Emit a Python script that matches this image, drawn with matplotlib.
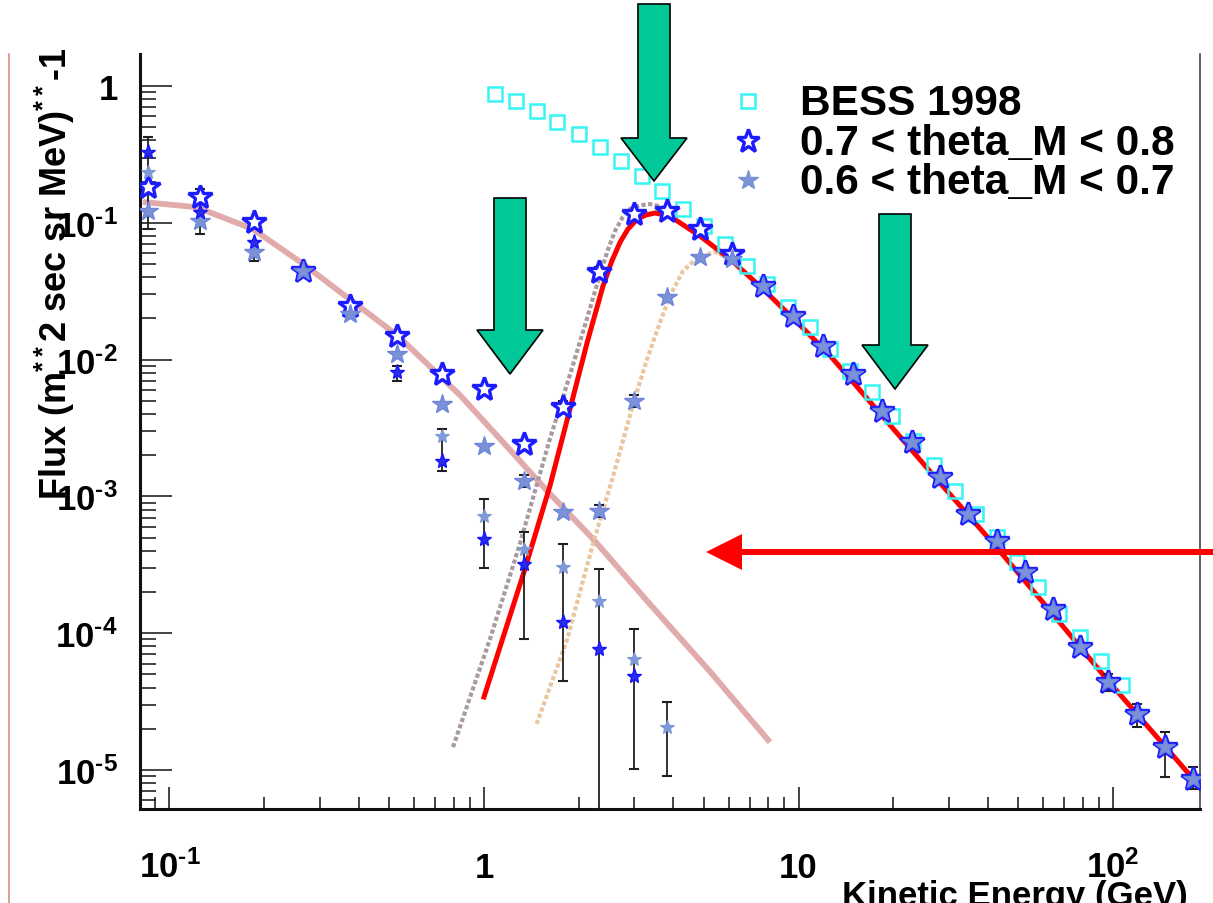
import matplotlib
matplotlib.use("Agg")
import matplotlib.pyplot as plt
import numpy as np
from matplotlib.lines import Line2D
from matplotlib.patches import Polygon
from matplotlib.ticker import FixedLocator, FuncFormatter, LogLocator, NullFormatter

plt.rcParams["font.family"] = ["Liberation Sans", "DejaVu Sans"]
plt.rcParams["font.weight"] = "bold"
plt.rcParams["mathtext.fontset"] = "custom"
plt.rcParams["mathtext.rm"] = "Liberation Sans:bold"
plt.rcParams["mathtext.it"] = "Liberation Sans:bold"
plt.rcParams["mathtext.bf"] = "Liberation Sans:bold"

# ---- data (kinetic energy in GeV, flux) ----
bess_e = [1.08, 1.26, 1.47, 1.71, 2.00, 2.34, 2.73, 3.18, 3.68, 4.29, 5.01,
          5.84, 6.86, 7.94, 9.26, 10.9, 12.6, 14.6, 17.1, 19.8, 23.1, 27.0,
          31.4, 36.7, 42.8, 49.5, 57.8, 67.3, 78.5, 91.6, 107]
bess_flux = [0.874, 0.777, 0.656, 0.546, 0.446, 0.358, 0.283, 0.220, 0.171,
             0.126, 0.0948, 0.070, 0.0483, 0.0357, 0.0243, 0.0173, 0.0119,
             0.00826, 0.00580, 0.00387, 0.00254, 0.00170, 0.00110, 7.43e-4,
             5.05e-4, 3.31e-4, 2.18e-4, 1.38e-4, 9.38e-5, 6.26e-5, 4.18e-5]

e_bins = [0.0855, 0.125, 0.186, 0.266, 0.375, 0.529, 0.735, 1.00, 1.34, 1.78,
          2.32, 3.00, 3.82, 4.86, 6.15, 7.71, 9.61, 12.0, 14.9, 18.4, 23.0,
          28.2, 34.6, 42.8, 52.5, 64.4, 78.5, 96.4, 119, 146, 180]
flux_07_08 = [0.183, 0.154, 0.101, 0.0444, 0.0246, 0.0149, 0.00785, 0.00610,
              0.00242, 0.00450, 0.0437, 0.116, 0.122, 0.0901, 0.0592, 0.0345,
              0.0208, 0.0126, 0.00785, 0.00421, 0.00250, 0.00139, 7.43e-4,
              4.72e-4, 2.80e-4, 1.50e-4, 7.93e-5, 4.40e-5, 2.56e-5, 1.47e-5,
              8.59e-6]
flux_06_07 = [0.122, 0.103, 0.0612, 0.0444, 0.0215, 0.0110, 0.00473, 0.00233,
              0.00130, 7.69e-4, 7.82e-4, 0.00498, 0.0287, 0.0562, 0.0543,
              0.0345, 0.0208, 0.0126, 0.00785, 0.00421, 0.00250, 0.00139,
              7.43e-4, 4.72e-4, 2.80e-4, 1.50e-4, 7.93e-5, 4.40e-5, 2.56e-5,
              1.47e-5, 8.59e-6]

# second (small) components at low energy
low_e_07_08 = [0.0855, 0.125, 0.186, 0.529, 0.735, 1.00, 1.34, 1.78, 2.32, 3.00]
low_flux_07_08 = [0.330, 0.120, 0.0724, 0.00811, 0.00182, 4.89e-4, 3.21e-4,
                  1.21e-4, 7.67e-5, 4.87e-5]
low_e_06_07 = [0.0855, 0.735, 1.00, 1.34, 1.78, 2.32, 3.00, 3.82]
low_flux_06_07 = [0.235, 0.00277, 7.19e-4, 4.12e-4, 3.05e-4, 1.72e-4, 6.48e-5,
                  2.06e-5]

# error bars (low / high ends)
err_e = [0.0855, 0.125, 0.186, 0.529, 0.735, 1.00, 1.34, 1.78, 2.32, 3.00,
         3.82, 1.34, 2.32, 3.00, 1.78, 2.32, 96.4, 119, 146, 180]
err_lo = [0.0901, 0.0828, 0.0526, 0.00698, 0.00153, 3.0e-4, 9.07e-5, 4.47e-5,
          1e-6, 1.02e-5, 9.03e-6, 1.17e-3, 7.07e-4, 4.50e-3, 4.07e-3, 0.0402,
          3.78e-5, 2.06e-5, 8.89e-6, 7.26e-6]
err_hi = [0.424, 0.177, 0.0724, 0.00898, 0.00311, 9.57e-4, 5.50e-4, 4.49e-4,
          2.94e-4, 1.07e-4, 3.14e-5, 1.43e-3, 8.65e-4, 5.51e-3, 4.98e-3, 0.0475,
          5.03e-5, 3.03e-5, 1.90e-5, 1.05e-5]

# fitted curves
sec_fit_e = [0.0823, 0.122, 0.184, 0.266, 0.375, 0.529, 0.839, 1.12, 1.58,
             2.22, 3.37, 5.23, 8.11]
sec_fit_flux = [0.142, 0.130, 0.0901, 0.0501, 0.0275, 0.0151, 0.00550,
                0.00266, 0.00111, 4.90e-4, 1.63e-4, 5.25e-5, 1.60e-5]
gray_fit_e = [0.797, 1.045, 1.30, 1.62, 1.88, 2.10, 2.34, 2.48, 2.61, 2.76,
              2.91, 3.12, 3.37, 3.62, 3.90]
gray_fit_flux = [1.47e-5, 9.07e-5, 4.49e-4, 2.63e-3, 7.85e-3, 0.0182, 0.0422,
                 0.0640, 0.0871, 0.110, 0.126, 0.134, 0.137, 0.132, 0.122]
red_fit_e = [1.00, 1.34, 1.62, 1.92, 2.13, 2.39, 2.55, 2.71, 2.87, 3.07, 3.27,
             3.50, 3.90, 4.86, 6.06, 7.71, 9.89, 12.6, 15.7, 27.8, 42.8, 64.5,
             96.4, 180]
red_fit_flux = [3.42e-5, 2.80e-4, 1.19e-3, 5.33e-3, 0.01345, 0.0345, 0.0526,
                0.0724, 0.0901, 0.1066, 0.114, 0.118, 0.112, 0.0801, 0.0543,
                0.0328, 0.0188, 0.0107, 5.96e-3, 1.30e-3, 4.2e-4, 1.37e-4,
                4.5e-5, 8.59e-6]
tan_fit_e = [1.47, 1.84, 2.22, 2.57, 2.98, 3.30, 3.63, 3.90, 4.29, 4.76, 5.43, 6.28]
tan_fit_flux = [2.17e-5, 9.07e-5, 4.49e-4, 1.39e-3, 4.73e-3, 0.0101, 0.0188,
                0.0292, 0.0444, 0.0553, 0.0612, 0.0526]

legend_labels = ["BESS 1998", "0.7 < theta_M < 0.8", "0.6 < theta_M < 0.7"]

W, H = 1213, 904
HY = "\u2010"  # short hyphen used in the exponents


def px(x, y):
    return x / W, 1 - y / H


fig = plt.figure(figsize=(W / 100, H / 100), dpi=100)
ax = fig.add_axes([140 / W, 1 - 810 / H, 1060 / W, 755 / H])
ax.set_xscale("log")
ax.set_yscale("log")
ax.set_xlim(0.0806, 189)
ax.set_ylim(5.19e-6, 1.714)

# curves
ax.plot(sec_fit_e, sec_fit_flux, color="#dc9c9c", lw=4.2, alpha=0.85,
        solid_capstyle="butt", zorder=2)
ax.plot(gray_fit_e, gray_fit_flux, color="#a89a9e", lw=3.0, ls=(0, (1, 0.6)),
        zorder=2)
ax.plot(tan_fit_e, tan_fit_flux, color="#eac6a0", lw=3.0, ls=(0, (1, 0.6)),
        zorder=2)
ax.plot(red_fit_e, red_fit_flux, color="#ff0000", lw=3.6, zorder=3)

# error bars
ax.vlines(err_e, err_lo, err_hi, color="#202020", lw=1.3, zorder=4)
ax.plot(err_e, err_lo, ls="none", marker="_", ms=7, mew=1.5, color="#202020", zorder=4)
ax.plot(err_e, err_hi, ls="none", marker="_", ms=7, mew=1.5, color="#202020", zorder=4)

# markers
ax.plot(bess_e, bess_flux, ls="none", marker="s", ms=10, mfc="none",
        mec="#38f4f4", mew=1.8, zorder=5)
ax.plot(e_bins, flux_07_08, ls="none", marker="*", ms=18, mfc="white",
        mec="#1c1cff", mew=2.4, zorder=6)
ax.plot(e_bins, flux_06_07, ls="none", marker="*", ms=15, mfc="#7b93d6",
        mec="#6c84dc", mew=1.0, zorder=7)
ax.plot(low_e_07_08, low_flux_07_08, ls="none", marker="*", ms=11,
        mfc="#2c2ce8", mec="#1515ff", mew=1.0, zorder=7)
ax.plot(low_e_06_07, low_flux_06_07, ls="none", marker="*", ms=10,
        mfc="#7f9ad8", mec="#7f9ad8", mew=0.8, zorder=7)


# axes cosmetics, ROOT-like
def x_fmt(v, _):
    return {0.1: "$10^{%s1}$" % HY, 1: "1", 10: "10", 100: "$10^{2}$"}.get(v, "")


def y_fmt(v, _):
    if abs(v - 1) < 1e-9:
        return "1"
    return "$10^{%s%d}$" % (HY, -round(np.log10(v)))


ax.xaxis.set_major_locator(FixedLocator([0.1, 1, 10, 100]))
ax.xaxis.set_major_formatter(FuncFormatter(x_fmt))
ax.xaxis.set_minor_locator(LogLocator(base=10, subs=np.arange(2, 10), numticks=30))
ax.xaxis.set_minor_formatter(NullFormatter())
ax.yaxis.set_major_locator(FixedLocator([1e-5, 1e-4, 1e-3, 1e-2, 1e-1, 1]))
ax.yaxis.set_major_formatter(FuncFormatter(y_fmt))
ax.yaxis.set_minor_locator(LogLocator(base=10, subs=np.arange(2, 10), numticks=30))
ax.yaxis.set_minor_formatter(NullFormatter())

ax.tick_params(which="both", direction="in", top=False, right=False, color="#111")
ax.tick_params(axis="y", which="major", length=23, width=1.1, pad=16, labelsize=25)
ax.tick_params(axis="y", which="minor", length=11.5, width=1.1)
ax.tick_params(axis="x", which="major", length=16, width=1.1, pad=49, labelsize=25)
ax.tick_params(axis="x", which="minor", length=8.5, width=1.1)
for t in ax.xaxis.get_major_ticks():
    t.label1.set_verticalalignment("baseline")

ax.spines["top"].set_visible(False)
ax.spines["right"].set_color("#444444")
ax.spines["right"].set_linewidth(1.2)
for s in ("left", "bottom"):
    ax.spines[s].set_linewidth(2.2)
    ax.spines[s].set_color("#111111")

ax.set_ylabel(r"Flux (m$^{**}$2 sec sr MeV)$^{**}$-1", fontsize=26,
              fontweight="bold", va="center")
ax.yaxis.set_label_coords(-0.080, 0.71)
ax.set_xlabel("Kinetic Energy (GeV)", fontsize=25, fontweight="bold",
              ha="right", va="baseline")
ax.xaxis.set_label_coords(0.9887, -0.127)

# legend drawn by hand (ROOT style, no frame)
leg_styles = [
    dict(marker="s", ms=10, mfc="none", mec="#38f4f4", mew=1.8),
    dict(marker="*", ms=17, mfc="white", mec="#1c1cff", mew=2.4),
    dict(marker="*", ms=15, mfc="#7b93d6", mec="#7b93d6", mew=1.0),
]
for i, (lab, st) in enumerate(zip(legend_labels, leg_styles)):
    base = 115 + 39.5 * i
    mx, my = px(748, base - 13)
    fig.add_artist(Line2D([mx], [my], ls="none", transform=fig.transFigure, **st))
    tx, ty = px(800, base)
    fig.text(tx, ty, lab, fontsize=30.5, fontweight="bold", va="baseline", ha="left")


# green arrows
def down_arrow(xc, top, base, tip, sh=16, hh=33):
    pts = [(xc - sh, top), (xc + sh, top), (xc + sh, base), (xc + hh, base),
           (xc, tip), (xc - hh, base), (xc - sh, base)]
    fig.add_artist(Polygon([px(*p) for p in pts], closed=True,
                           transform=fig.transFigure, facecolor="#00c896",
                           edgecolor="black", lw=1.2, zorder=20))


down_arrow(510, 199, 331, 375)
down_arrow(654, 5, 139, 182)
down_arrow(895, 215, 346, 390)

# red arrow pointing left
shaft = [(740, 550), (1213, 550), (1213, 556), (740, 556)]
head = [(706, 553), (742, 535), (742, 571)]
for poly in (shaft, head):
    fig.add_artist(Polygon([px(*p) for p in poly], closed=True,
                           transform=fig.transFigure, facecolor="#ff0000",
                           edgecolor="none", zorder=20))

# thin page edge line on the left
fig.add_artist(Line2D([9 / W, 9 / W], [0, 1 - 55 / H], color="#d88c8c", lw=1.2,
                      transform=fig.transFigure))

fig.savefig("out.png", dpi=100)
